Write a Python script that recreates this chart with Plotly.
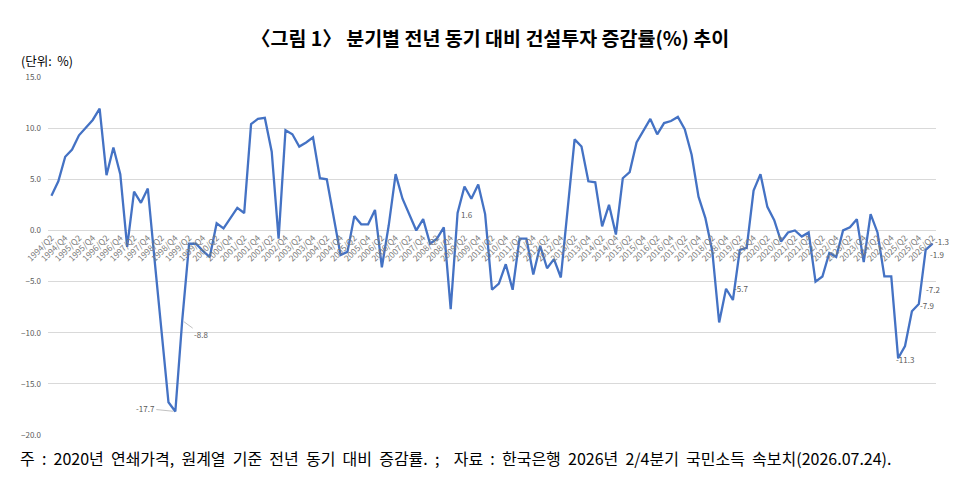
import plotly.graph_objects as go

# ---- data ----
years = list(range(1994, 2027))
quarters = []
for y in years:
    for q in (1, 2, 3, 4):
        if (y == 1994 and q < 2) or (y == 2026 and q > 2):
            continue
        quarters.append(f"{y}/Q{q}")

growth = [
    3.4, 4.8, 7.2, 7.9, 9.3, 10.0, 10.8, 11.9, 5.4, 8.1,
    5.5, -1.6, 3.8, 2.7, 4.1, -3.0, -10.0, -16.8, -17.7, -8.8,
    -1.3, -1.3, -2.0, -2.6, 0.7, 0.2, 1.2, 2.2, 1.7, 10.4,
    10.9, 11.0, 7.7, -0.8, 9.8, 9.4, 8.2, 8.6, 9.1, 5.1,
    5.0, 1.4, -2.4, -2.1, 1.4, 0.6, 0.6, 2.0, -3.6, 0.5,
    5.5, 3.1, 1.5, 0.0, 1.1, -1.3, -0.8, 0.3, -7.7, 1.7,
    4.3, 3.1, 4.5, 1.6, -5.8, -5.2, -3.3, -5.8, -0.8, -0.8,
    -4.3, -1.5, -3.7, -2.8, -4.6, 2.0, 8.9, 8.2, 4.8, 4.7,
    0.4, 2.5, -0.4, 5.1, 5.7, 8.6, 9.7, 10.9, 9.4, 10.5,
    10.7, 11.1, 9.9, 7.4, 3.3, 1.2, -2.0, -9.0, -5.7, -6.8,
    -1.9, -1.7, 3.9, 5.5, 2.3, 1.0, -1.1, -0.2, 0.0, -0.6,
    -0.2, -5.0, -4.5, -2.2, -2.6, 0.0, 0.3, 1.1, -3.1, 1.6,
    -0.2, -4.5, -4.5, -12.5, -11.3, -7.9, -7.2, -1.9, -1.3,
]

tick_labels = quarters[::2]
y_ticks = [15, 10, 5, 0, -5, -10, -15, -20]

# labelled points: (index, xshift px, yshift px, use leader)
labelled = [
    (18, -30, 3, True),
    (19, 19, -14, True),
    (63, -18, 0, False),
    (98, 15, 0, False),
    (124, 0, -13, False),
    (125, 15, 6, False),
    (126, 14, 15, False),
    (127, 11, -5, False),
    (128, 9, 2, False),
]

title_text = "〈그림 1〉 분기별 전년 동기 대비 건설투자 증감률(%) 추이"
unit_text = "(단위:  %)"
note_text = "주 : 2020년 연쇄가격, 원계열 기준 전년 동기 대비 증감률. ;  자료 : 한국은행 2026년 2/4분기 국민소득 속보치(2026.07.24)."

# ---- layout geometry (page has an 8px body margin) ----
OFF = 8
W, H = 964 - 2 * OFF, 490 - 2 * OFF
L = 47.7 - OFF
R = W - (936 - OFF)
T = 77 - OFF
B = H - (435.5 - OFF)
plot_h = H - T - B
plot_w = W - L - R
ymin, ymax = -20, 15

def py(p):  # screen pixel y -> paper y
    return (H - B - (p - OFF)) / plot_h

def px(p):  # screen pixel x -> paper x
    return ((p - OFF) - L) / plot_w

fig = go.Figure()
fig.add_trace(go.Scatter(
    x=quarters, y=growth, mode="lines",
    line=dict(color="#4472C4", width=2.3),
    hoverinfo="x+y", showlegend=False,
))

grey = "#595959"
kfont = "Noto Sans CJK KR"
annotations = []
for idx, xs, ys, leader in labelled:
    txt = f"{growth[idx]:.1f}"
    if leader:
        annotations.append(dict(
            x=quarters[idx], y=growth[idx], xref="x", yref="y",
            text=txt, showarrow=True, ax=xs, ay=-ys,
            arrowhead=0, arrowwidth=0.7, arrowcolor="#a6a6a6",
            standoff=2, font=dict(size=8, color=grey, family=kfont),
        ))
    else:
        annotations.append(dict(
            x=quarters[idx], y=growth[idx], xref="x", yref="y",
            text=txt, showarrow=False, xshift=xs, yshift=ys,
            font=dict(size=8, color=grey, family=kfont),
        ))

annotations.append(dict(
    x=px(490), y=py(37), xref="paper", yref="paper", xanchor="center", yanchor="middle",
    text="<b>" + title_text + "</b>",
    showarrow=False, font=dict(size=19.5, color="#000000", family=kfont),
))
annotations.append(dict(
    x=px(19), y=py(60), xref="paper", yref="paper", xanchor="left", yanchor="middle",
    text=unit_text.replace("  ", "&nbsp;&nbsp;"), showarrow=False,
    font=dict(size=12.5, color="#000000", family=kfont),
))
annotations.append(dict(
    x=px(18), y=py(459), xref="paper", yref="paper", xanchor="left", yanchor="middle",
    text=note_text.replace(" ", "&nbsp;&nbsp;"),
    showarrow=False, font=dict(size=16, color="#000000", family=kfont),
))

fig.update_layout(
    width=W, height=H,
    margin=dict(l=L, r=R, t=T, b=B, pad=0),
    paper_bgcolor="white", plot_bgcolor="white",
    font=dict(family=kfont, color=grey),
    annotations=annotations,
    xaxis=dict(
        type="category", categoryorder="array", categoryarray=quarters,
        range=[-0.5, len(quarters) - 0.5],
        tickmode="array", tickvals=tick_labels, ticktext=tick_labels,
        tickangle=-45, tickfont=dict(size=8.5, color="#7a7a7a"),
        showgrid=False, showline=False, ticks="", zeroline=False,
        anchor="free", position=(0 - ymin) / (ymax - ymin),
        automargin=False, fixedrange=True,
    ),
    yaxis=dict(
        range=[ymin, ymax], tickvals=y_ticks, tickformat=".1f",
        tickfont=dict(size=8, color=grey),
        showgrid=True, gridcolor="#d9d9d9", gridwidth=0.8,
        zeroline=True, zerolinecolor="#d9d9d9", zerolinewidth=0.8,
        showline=False, ticks="", ticklabelstandoff=6,
        automargin=False, fixedrange=True,
    ),
)

fig.write_html("out.html")
